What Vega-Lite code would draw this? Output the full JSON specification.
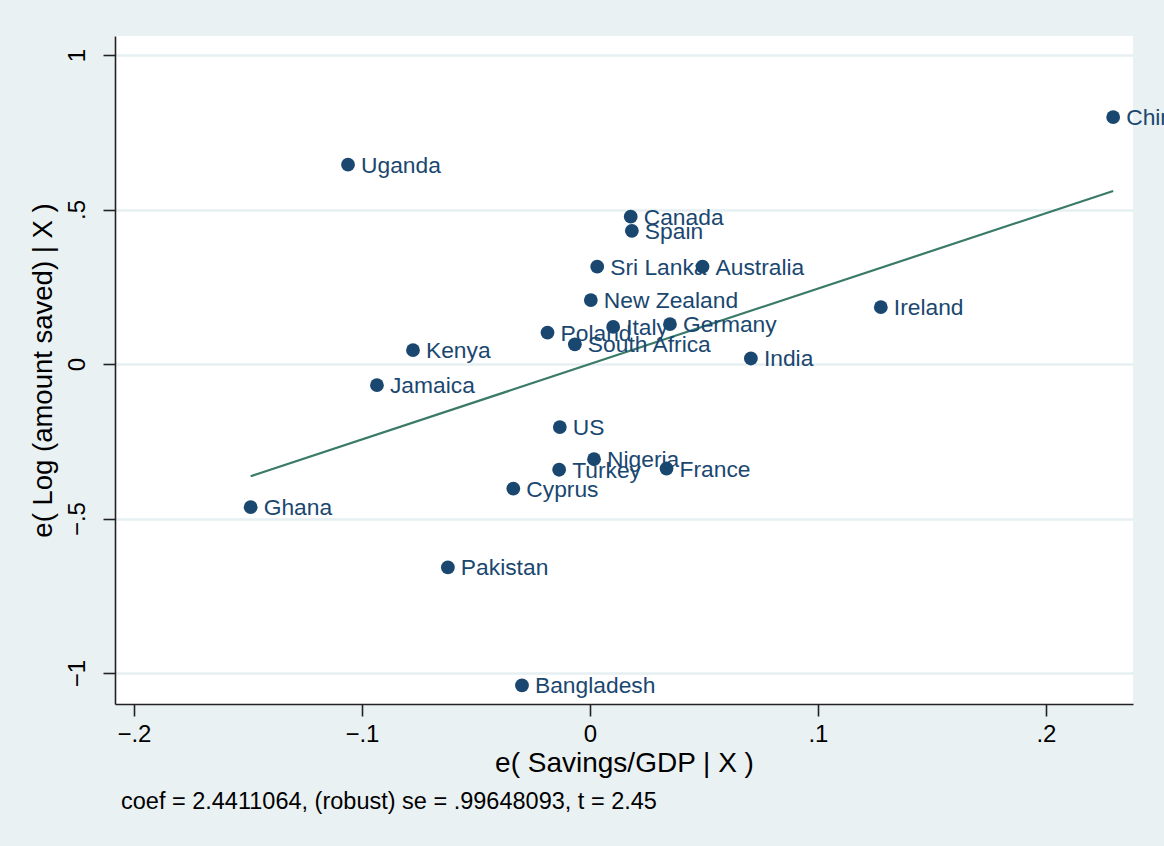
{
  "$schema": "https://vega.github.io/schema/vega-lite/v6.json",
  "autosize": {"type": "none"},
  "width": 1018,
  "height": 668,
  "padding": {"left": 115, "top": 36, "right": 31, "bottom": 142},
  "background": "#EAF1F3",
  "datasets": {
    "pts": [
      {"country": "China", "x": 0.2295, "y": 0.799},
      {"country": "Uganda", "x": -0.1061, "y": 0.645},
      {"country": "Canada", "x": 0.0179, "y": 0.477},
      {"country": "Spain", "x": 0.0184, "y": 0.431},
      {"country": "Sri Lanka", "x": 0.0032, "y": 0.315},
      {"country": "Australia", "x": 0.0494, "y": 0.315},
      {"country": "New Zealand", "x": 0.0004, "y": 0.207},
      {"country": "Poland", "x": -0.0186, "y": 0.102},
      {"country": "Italy", "x": 0.0102, "y": 0.12},
      {"country": "Germany", "x": 0.0351, "y": 0.129},
      {"country": "South Africa", "x": -0.0066, "y": 0.064},
      {"country": "India", "x": 0.0706, "y": 0.018},
      {"country": "Ireland", "x": 0.1276, "y": 0.184},
      {"country": "Kenya", "x": -0.0776, "y": 0.045},
      {"country": "Jamaica", "x": -0.0934, "y": -0.0685},
      {"country": "US", "x": -0.0132, "y": -0.204},
      {"country": "Nigeria", "x": 0.0018, "y": -0.308},
      {"country": "Turkey", "x": -0.0135, "y": -0.342},
      {"country": "France", "x": 0.0336, "y": -0.338},
      {"country": "Cyprus", "x": -0.0336, "y": -0.403},
      {"country": "Ghana", "x": -0.1488, "y": -0.463},
      {"country": "Pakistan", "x": -0.0623, "y": -0.658},
      {"country": "Bangladesh", "x": -0.0298, "y": -1.04}
    ],
    "fit": [
      {"x": -0.1488, "y": -0.3632},
      {"x": 0.2295, "y": 0.5602}
    ]
  },
  "title": {
    "text": "coef = 2.4411064, (robust) se = .99648093, t = 2.45",
    "orient": "bottom",
    "anchor": "start",
    "frame": "group",
    "dx": 6,
    "offset": 13,
    "fontSize": 23.5,
    "fontWeight": "normal",
    "font": "Liberation Sans",
    "color": "#000000"
  },
  "encoding": {
    "x": {
      "field": "x",
      "type": "quantitative",
      "scale": {"domain": [-0.2083, 0.2382], "nice": false, "zero": false},
      "axis": {
        "title": "e( Savings/GDP | X )",
        "values": [-0.2, -0.1, 0, 0.1, 0.2],
        "labelExpr": "replace(format(datum.value, '~g'), '0.', '.')",
        "grid": false,
        "labelFontSize": 24,
        "titleFontSize": 28,
        "labelPadding": 6,
        "titlePadding": 3
      }
    },
    "y": {
      "field": "y",
      "type": "quantitative",
      "scale": {"domain": [-1.1, 1.0615], "nice": false, "zero": false},
      "axis": {
        "title": "e( Log (amount saved) | X )",
        "values": [-1, -0.5, 0, 0.5, 1],
        "labelExpr": "replace(format(datum.value, '~g'), '0.', '.')",
        "grid": true,
        "labelAngle": -90,
        "labelAlign": "center",
        "labelBaseline": "bottom",
        "labelFontSize": 24,
        "titleFontSize": 27.5,
        "labelPadding": 14,
        "titlePadding": 8
      }
    }
  },
  "layer": [
    {
      "data": {"name": "fit"},
      "mark": {"type": "line", "color": "#3A7A68", "strokeWidth": 2.2},
      "encoding": {}
    },
    {
      "data": {"name": "pts"},
      "mark": {"type": "circle", "size": 190, "opacity": 1, "color": "#1A476F"},
      "encoding": {}
    },
    {
      "data": {"name": "pts"},
      "mark": {"type": "text", "align": "left", "baseline": "middle", "dx": 13, "dy": 1, "fontSize": 22.8, "font": "Liberation Sans", "color": "#1A476F"},
      "encoding": {"text": {"field": "country"}}
    }
  ],
  "config": {
    "view": {"fill": "#FFFFFF", "stroke": null},
    "font": "Liberation Sans",
    "axis": {
      "domainColor": "#222222",
      "domainWidth": 1.6,
      "tickColor": "#222222",
      "tickWidth": 1.6,
      "tickSize": 12,
      "labelColor": "#000000",
      "titleColor": "#000000",
      "titleFontWeight": "normal",
      "labelFont": "Liberation Sans",
      "titleFont": "Liberation Sans",
      "gridColor": "#E6EFF1",
      "gridWidth": 2.6
    }
  }
}
